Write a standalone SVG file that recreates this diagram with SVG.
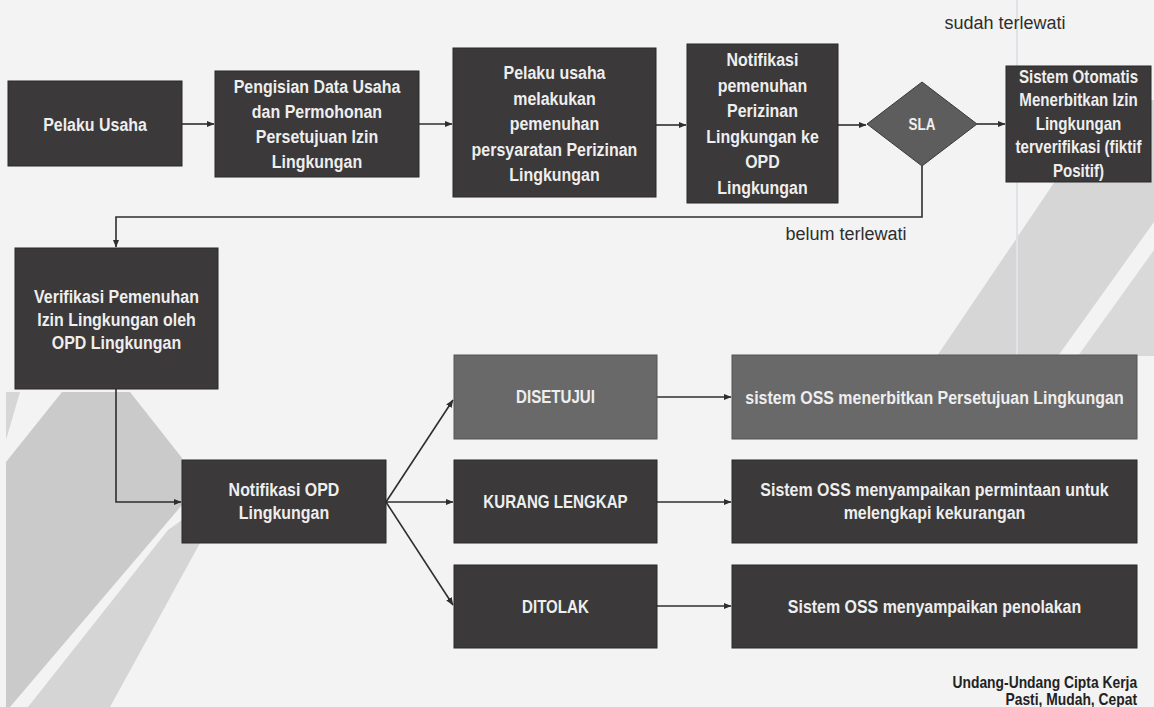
<svg xmlns="http://www.w3.org/2000/svg" width="1154" height="707" viewBox="0 0 1154 707">
<defs>
<marker id="arr" markerWidth="8" markerHeight="8" refX="7.5" refY="4" orient="auto" markerUnits="userSpaceOnUse">
<path d="M0,0.8 L8,4 L0,7.2 z" fill="#2e2e2e"/>
</marker>
<style>
.box{fill:#3b3939;stroke:#2a2828;stroke-width:1}
.lite{fill:#6a6969;stroke:#555;stroke-width:1}
.dia{fill:#5e5d5d;stroke:#3a3a3a;stroke-width:1}
.t{font-family:"Liberation Sans",Arial,sans-serif;font-weight:bold;font-size:19px;fill:#eeeeee;text-anchor:middle;transform-box:fill-box;transform-origin:center;transform:scaleX(0.84)}
.t15{font-size:18px}
.lbl{font-family:"Liberation Sans",Arial,sans-serif;font-size:18px;fill:#2e2e2e;text-anchor:middle}
.foot{font-family:"Liberation Sans",Arial,sans-serif;font-weight:bold;font-size:16.5px;fill:#222;text-anchor:end;transform-box:fill-box;transform-origin:right center;transform:scaleX(0.84)}
.ca{fill:none;stroke:#2e2e2e;stroke-width:1.6;marker-end:url(#arr)}
</style>
</defs>
<rect x="0" y="0" width="1154" height="707" fill="#f3f3f3"/>
<g id="background">
<polygon points="6,392 20,392 6,440" fill="#d6d6d6"/>
<polygon points="62,392 130,392 182,458 182,505 10,707 6,707 6,462" fill="#cacaca"/>
<polygon points="168,530 182,520 182,543 200,543 110,707 28,707" fill="#d5d5d5"/>
<polygon points="937,356 1058,356 1154,222 1154,100 1110,100" fill="#d6d6d6"/>
<polygon points="1078,356 1154,250 1154,356" fill="#d9d9d9"/>
<line x1="1017" y1="0" x2="1017" y2="355" stroke="#e0e2e8" stroke-width="2"/>
</g>
<g id="connectors">
<line class="ca" x1="182" y1="124" x2="214" y2="124"/>
<line class="ca" x1="419" y1="124" x2="452" y2="124"/>
<line class="ca" x1="656" y1="125" x2="686" y2="125"/>
<line class="ca" x1="838" y1="125" x2="866" y2="125"/>
<line class="ca" x1="977" y1="124" x2="1005" y2="124"/>
<polyline class="ca" points="922,166 922,217 116,217 116,247"/>
<polyline class="ca" points="116,389 116,502 181,502"/>
<line class="ca" x1="386" y1="502" x2="453" y2="400"/>
<line class="ca" x1="386" y1="502" x2="453" y2="502"/>
<line class="ca" x1="386" y1="502" x2="453" y2="605"/>
<line class="ca" x1="657" y1="397" x2="731" y2="397"/>
<line class="ca" x1="657" y1="502" x2="731" y2="502"/>
<line class="ca" x1="657" y1="606" x2="731" y2="606"/>
<text class="lbl" x="1005" y="29">sudah terlewati</text>
<text class="lbl" x="846" y="240">belum terlewati</text>
</g>
<g id="n1">
<rect class="box" x="8" y="81" width="174" height="85"/>
<text class="t" x="95" y="131">Pelaku Usaha</text>
</g>
<g id="n2">
<rect class="box" x="215" y="71" width="204" height="106"/>
<text class="t" x="317" y="93">Pengisian Data Usaha</text>
<text class="t" x="317" y="118">dan Permohonan</text>
<text class="t" x="317" y="143">Persetujuan Izin</text>
<text class="t" x="317" y="168">Lingkungan</text>
</g>
<g id="n3">
<rect class="box" x="453" y="48" width="203" height="149"/>
<text class="t" x="554.5" y="79.5">Pelaku usaha</text>
<text class="t" x="554.5" y="105">melakukan</text>
<text class="t" x="554.5" y="130.5">pemenuhan</text>
<text class="t" x="554.5" y="156">persyaratan Perizinan</text>
<text class="t" x="554.5" y="181.5">Lingkungan</text>
</g>
<g id="n4">
<rect class="box" x="687" y="44" width="151" height="159"/>
<text class="t" x="762.5" y="66">Notifikasi</text>
<text class="t" x="762.5" y="92">pemenuhan</text>
<text class="t" x="762.5" y="117">Perizinan</text>
<text class="t" x="762.5" y="143">Lingkungan ke</text>
<text class="t" x="762.5" y="168">OPD</text>
<text class="t" x="762.5" y="194">Lingkungan</text>
</g>
<g id="sla">
<polygon class="dia" points="922,82 977,124 922,166 867,124"/>
<text class="t" x="922" y="130" style="font-size:16px">SLA</text>
</g>
<g id="n5">
<rect class="box" x="1006" y="66" width="145" height="116"/>
<text class="t t15" x="1078.5" y="83">Sistem Otomatis</text>
<text class="t t15" x="1078.5" y="106.5">Menerbitkan Izin</text>
<text class="t t15" x="1078.5" y="130">Lingkungan</text>
<text class="t t15" x="1078.5" y="153.5">terverifikasi (fiktif</text>
<text class="t t15" x="1078.5" y="177">Positif)</text>
</g>
<g id="n6">
<rect class="box" x="15" y="248" width="203" height="141"/>
<text class="t" x="116.5" y="303.5">Verifikasi Pemenuhan</text>
<text class="t" x="116.5" y="326.5">Izin Lingkungan oleh</text>
<text class="t" x="116.5" y="349.5">OPD Lingkungan</text>
</g>
<g id="n7">
<rect class="box" x="182" y="460" width="204" height="83"/>
<text class="t" x="284" y="496.5">Notifikasi OPD</text>
<text class="t" x="284" y="519.5">Lingkungan</text>
</g>
<g id="disetujui">
<rect class="lite" x="454" y="355" width="203" height="84"/>
<text class="t t15" x="555.5" y="403">DISETUJUI</text>
</g>
<g id="kurang">
<rect class="box" x="454" y="460" width="203" height="83"/>
<text class="t t15" x="555.5" y="508">KURANG LENGKAP</text>
</g>
<g id="ditolak">
<rect class="box" x="454" y="565" width="203" height="83"/>
<text class="t t15" x="555.5" y="613">DITOLAK</text>
</g>
<g id="r1">
<rect class="lite" x="732" y="355" width="405" height="84"/>
<text class="t" x="934.5" y="404">sistem OSS menerbitkan Persetujuan Lingkungan</text>
</g>
<g id="r2">
<rect class="box" x="732" y="460" width="405" height="83"/>
<text class="t" x="934.5" y="496.5">Sistem OSS menyampaikan permintaan untuk</text>
<text class="t" x="934.5" y="519.5">melengkapi kekurangan</text>
</g>
<g id="r3">
<rect class="box" x="732" y="565" width="405" height="83"/>
<text class="t" x="934.5" y="613">Sistem OSS menyampaikan penolakan</text>
</g>
<g id="footer">
<text class="foot" x="1137" y="688">Undang-Undang Cipta Kerja</text>
<text class="foot" x="1137" y="705">Pasti, Mudah, Cepat</text>
</g>
</svg>
